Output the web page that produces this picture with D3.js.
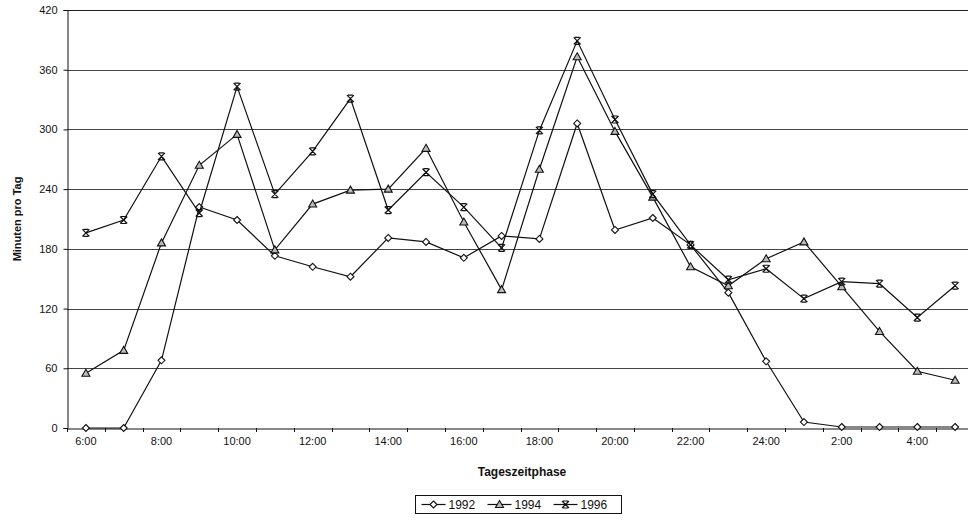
<!DOCTYPE html>
<html>
<head>
<meta charset="utf-8">
<script src="https://cdn.jsdelivr.net/npm/d3@7"></script>
<style>
  body { margin: 0; background: #fff; }
  text { font-family: Arial, "Liberation Sans", sans-serif; fill: #111; }
</style>
</head>
<body>
<script>
// hours of the day, 6:00 through 5:00 next morning
var hours = ["6:00","7:00","8:00","9:00","10:00","11:00","12:00","13:00","14:00","15:00","16:00","17:00",
             "18:00","19:00","20:00","21:00","22:00","23:00","24:00","1:00","2:00","3:00","4:00","5:00"];
var tickLabels = ["6:00","8:00","10:00","12:00","14:00","16:00","18:00","20:00","22:00","24:00","2:00","4:00"];
var years = ["1992", "1994", "1996"];

var v1992 = [0, 0, 68, 222, 209, 173, 162, 152, 191, 187, 171, 193, 190, 306, 199, 211, 184, 136, 67, 6, 1, 1, 1, 1];
var v1994 = [55, 78, 186, 264, 295, 179, 225, 239, 240, 281, 207, 139, 260, 373, 298, 232, 162, 143, 170, 187, 142, 97, 57, 48];
var v1996 = [196, 209, 273, 216, 343, 235, 278, 331, 219, 257, 222, 181, 299, 389, 310, 235, 184, 149, 160, 130, 147, 145, 111, 143];

var yTicks = [0, 60, 120, 180, 240, 300, 360, 420];

var series = [
  { name: years[0], values: v1992, marker: "diamond" },
  { name: years[1], values: v1994, marker: "triangle" },
  { name: years[2], values: v1996, marker: "star" }
];

var W = 968, H = 520;
var plotLeft = 67, plotRight = 974, plotTop = 10, plotBottom = 428;

var svg = d3.select("body").append("svg").attr("width", W).attr("height", H);

var x = d3.scaleBand().domain(hours).range([plotLeft, plotRight]);
var y = d3.scaleLinear().domain([0, 420]).range([plotBottom, plotTop]);

// gridlines
svg.append("g").selectAll("line")
  .data(yTicks.slice(1))
  .enter().append("line")
    .attr("x1", plotLeft).attr("x2", plotRight)
    .attr("y1", function(d) { return Math.round(y(d)) + 0.5; })
    .attr("y2", function(d) { return Math.round(y(d)) + 0.5; })
    .attr("stroke", function(d) { return d == 420 ? "#222" : "#444"; })
    .attr("stroke-width", 1);

// y axis
var yAxis = svg.append("g")
  .attr("transform", "translate(" + (plotLeft + 0.5) + ",0)")
  .call(d3.axisLeft(y).tickValues(yTicks).tickSize(4).tickPadding(6));
yAxis.select(".domain").attr("stroke", "#111");
yAxis.selectAll(".tick line").attr("stroke", "#111");
yAxis.selectAll("text").style("font-size", "11px").attr("fill", "#111");

// x axis: ticks between categories, labels every second hour
var xAxis = svg.append("g")
  .attr("transform", "translate(0," + (plotBottom + 0.5) + ")")
  .call(d3.axisBottom(x).tickValues(tickLabels).tickSize(0).tickPadding(9));
xAxis.select(".domain").attr("stroke", "#111");
xAxis.selectAll("text").style("font-size", "11px").attr("fill", "#111");
svg.append("g").selectAll("line")
  .data(hours)
  .enter().append("line")
    .attr("x1", function(d) { return Math.round(x(d)) + 0.5; })
    .attr("x2", function(d) { return Math.round(x(d)) + 0.5; })
    .attr("y1", plotBottom).attr("y2", plotBottom + 4)
    .attr("stroke", "#111");

var cx = function(i) { return x(hours[i]) + x.bandwidth() / 2; };

var line = d3.line()
  .x(function(d, i) { return cx(i); })
  .y(function(d) { return y(d); });

function drawMarker(g, type, px, py) {
  if (type == "diamond") {
    g.append("path")
      .attr("d", "M" + px + "," + (py - 3.5) + "L" + (px + 3.5) + "," + py + "L" + px + "," + (py + 3.5) + "L" + (px - 3.5) + "," + py + "Z")
      .attr("fill", "#fff").attr("stroke", "#111").attr("stroke-width", 1.1);
  } else if (type == "triangle") {
    g.append("path")
      .attr("d", "M" + px + "," + (py - 4) + "L" + (px + 4) + "," + (py + 3) + "L" + (px - 4) + "," + (py + 3) + "Z")
      .attr("fill", "#bbb").attr("stroke", "#111").attr("stroke-width", 1.1);
  } else {
    g.append("path")
      .attr("d", "M" + (px - 3.5) + "," + (py - 3.5) + "L" + (px + 3.5) + "," + (py + 3.5) +
                 "M" + (px + 3.5) + "," + (py - 3.5) + "L" + (px - 3.5) + "," + (py + 3.5) +
                 "M" + (px - 2.5) + "," + (py - 3.5) + "L" + (px + 2.5) + "," + (py - 3.5) +
                 "M" + (px - 2.5) + "," + (py + 3.5) + "L" + (px + 2.5) + "," + (py + 3.5))
      .attr("fill", "none").attr("stroke", "#111").attr("stroke-width", 1.2);
  }
}

series.forEach(function(s) {
  var g = svg.append("g");
  g.append("path")
    .datum(s.values)
    .attr("d", line)
    .attr("fill", "none")
    .attr("stroke", "#111")
    .attr("stroke-width", 1.2);
  s.values.forEach(function(v, i) {
    drawMarker(g, s.marker, cx(i), y(v));
  });
});

// axis titles
svg.append("text")
  .attr("transform", "translate(21," + ((plotTop + plotBottom) / 2) + ") rotate(-90)")
  .attr("text-anchor", "middle")
  .style("font-size", "11px").style("font-weight", "bold")
  .text("Minuten pro Tag");

svg.append("text")
  .attr("x", 522).attr("y", 476)
  .attr("text-anchor", "middle")
  .style("font-size", "12px").style("font-weight", "bold")
  .text("Tageszeitphase");

// legend
var legend = svg.append("g").attr("transform", "translate(415.5,495.5)");
legend.append("rect")
  .attr("width", 206).attr("height", 18)
  .attr("fill", "#fff").attr("stroke", "#111");
var itemW = 66;
series.forEach(function(s, i) {
  var gx = 6 + i * itemW, gy = 9;
  var it = legend.append("g");
  it.append("line")
    .attr("x1", gx).attr("x2", gx + 24)
    .attr("y1", gy).attr("y2", gy)
    .attr("stroke", "#111").attr("stroke-width", 1.2);
  drawMarker(it, s.marker, gx + 12, gy);
  it.append("text")
    .attr("x", gx + 27).attr("y", gy + 4.5)
    .style("font-size", "12px")
    .text(s.name);
});
</script>
</body>
</html>
